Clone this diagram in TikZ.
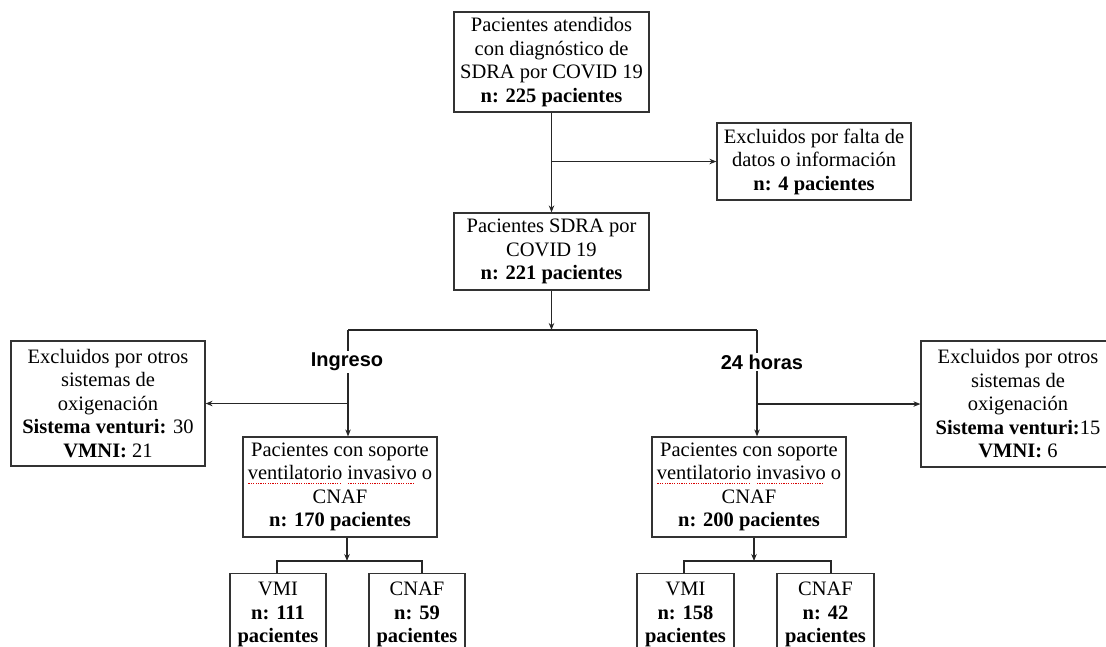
\documentclass[tikz,border=0pt]{standalone}
\usepackage{fontspec}
\setmainfont{Liberation Serif}
\newfontfamily\labsans{Liberation Sans}
\usetikzlibrary{arrows.meta}
\newcommand\squig[1]{\setbox0\hbox{#1}\rlap{\color{red!85!black}\raisebox{-4pt}[0pt][0pt]{\hbox to\wd0{\leaders\hbox to 2.4pt{\hss\rule{1.1pt}{1.1pt}\hss}\hfill}}}\box0\relax}
\begin{document}
\begin{tikzpicture}[x=1pt,y=-1pt,
  box/.style={draw=black!80, line width=1.2pt, align=center, inner sep=0pt,
    font=\fontsize{20.5}{23.5}\selectfont},
  conn/.style={draw=black!85, line width=1.2pt},
  arr/.style={conn, -{Stealth[length=7pt,width=5.5pt]}},
  lab/.style={fill=white, inner sep=2pt, font=\labsans\bfseries\fontsize{20}{22}\selectfont}]
\useasboundingbox (0,0) rectangle (1106,646);
% boxes
\node[box, minimum width=195pt, minimum height=100pt] (top) at (551.5,62)
  {Pacientes atendidos\\con diagnóstico de\\SDRA por COVID 19\\\textbf{n: 225 pacientes}};
\node[box, minimum width=194pt, minimum height=77pt] (exA) at (814,161.5)
  {Excluidos por falta de\\datos o información\\\textbf{n: 4 pacientes}};
\node[box, minimum width=195pt, minimum height=77pt] (sdra) at (551.5,251.5)
  {Pacientes SDRA por\\COVID 19\\\textbf{n: 221 pacientes}};
\node[box, minimum width=194pt, minimum height=125pt] (exL) at (108,403.5)
  {Excluidos por otros\\sistemas de\\oxigenación\\\textbf{Sistema venturi:} 30\\\textbf{VMNI:} 21};
\node[box, minimum width=194pt, minimum height=126pt] (exR) at (1018,404)
  {Excluidos por otros\\sistemas de\\oxigenación\\\textbf{Sistema venturi:}15\\\textbf{VMNI:} 6};
\node[box, minimum width=194pt, minimum height=100pt] (midL) at (340,487)
  {Pacientes con soporte\\\squig{ventilatorio} \squig{invasivo} o\\CNAF\\\textbf{n: 170 pacientes}};
\node[box, minimum width=194pt, minimum height=100pt] (midR) at (749,487)
  {Pacientes con soporte\\\squig{ventilatorio} \squig{invasivo} o\\CNAF\\\textbf{n: 200 pacientes}};
\node[box, minimum width=96pt, minimum height=82pt, anchor=north] (vmiL) at (278,573)
  {VMI\\\textbf{n: 111}\\\textbf{pacientes}};
\node[box, minimum width=96pt, minimum height=82pt, anchor=north] (cnafL) at (417,573)
  {CNAF\\\textbf{n: 59}\\\textbf{pacientes}};
\node[box, minimum width=97pt, minimum height=82pt, anchor=north] (vmiR) at (685.5,573)
  {VMI\\\textbf{n: 158}\\\textbf{pacientes}};
\node[box, minimum width=97pt, minimum height=82pt, anchor=north] (cnafR) at (825.5,573)
  {CNAF\\\textbf{n: 42}\\\textbf{pacientes}};
% connectors
\draw[arr] (top.south) -- (sdra.north);
\draw[arr] (top.south |- exA.west) -- (exA.west);
\coordinate (jL) at (348,330);
\coordinate (jR) at (757,330);
\draw[conn] (jL) -- (jR);
\draw[arr] (sdra.south) -- (sdra.south |- jL);
\draw[arr] (jL) -- (jL |- midL.north);
\draw[arr] (jR) -- (jR |- midR.north);
\draw[arr] (jL |- exL.east) -- (exL.east);
\draw[arr] (jR |- exR.west) -- (exR.west);
\node[lab] (ing) at (347,362) {Ingreso};
\node[lab] (h24) at (762,362) {24 horas};
\coordinate (bL) at (347,561);
\coordinate (bR) at (754,561);
\draw[arr] (midL.south -| bL) -- (bL);
\draw[arr] (midR.south -| bR) -- (bR);
\draw[conn] ([xshift=-1pt]vmiL.north) |- (bL) -| ([xshift=5pt]cnafL.north);
\draw[conn] ([xshift=-1.5pt]vmiR.north) |- (bR) -| ([xshift=5.5pt]cnafR.north);
\end{tikzpicture}
\end{document}
